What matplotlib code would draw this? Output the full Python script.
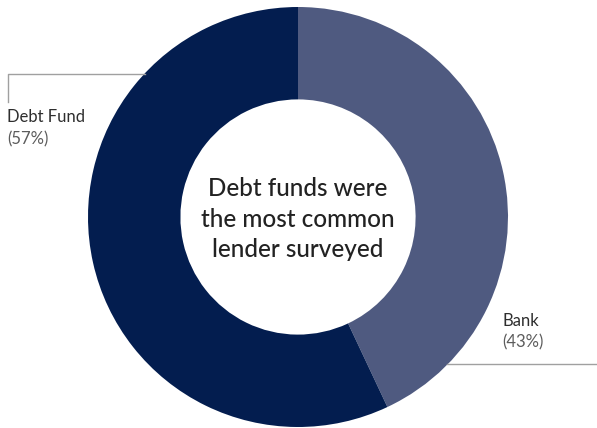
import matplotlib.pyplot as plt
from matplotlib.lines import Line2D

# lender split
labels = ["Bank", "Debt Fund"]
shares = [43, 57]
colors = ["#4f5a80", "#031d4f"]

plt.rcParams["font.family"] = ["Lato", "DejaVu Sans"]

W, H = 597, 428
fig = plt.figure(figsize=(W / 100, H / 100), dpi=100)
ax = fig.add_axes([0, 0, 1, 1])

cx, cy, r = 298, H - 217, 210
ax.pie(shares, colors=colors, startangle=90, counterclock=False,
       center=(cx, cy), radius=r, frame=True,
       wedgeprops=dict(width=r * 0.44, linewidth=0))
ax.set_xlim(0, W)
ax.set_ylim(0, H)
ax.set_aspect("equal")
ax.axis("off")

# leader lines
line_kw = dict(color="#a0a0a0", linewidth=1.0)
ax.add_line(Line2D([8, 8, 145], [H - 102, H - 74, H - 74], **line_kw))
ax.add_line(Line2D([447, 597], [H - 364, H - 364], **line_kw))

lab_kw = dict(fontsize=12, va="center", ha="left")
ax.text(7, H - 117, labels[1], color="#2e2e2e", **lab_kw)
ax.text(7, H - 139, f"({shares[1]}%)", color="#5c5c5c", **lab_kw)
ax.text(502, H - 321, labels[0], color="#2e2e2e", **lab_kw)
ax.text(502, H - 342, f"({shares[0]}%)", color="#5c5c5c", **lab_kw)

ax.text(cx, H - 219, "Debt funds were\nthe most common\nlender surveyed",
        fontsize=17.5, color="#222222", ha="center", va="center",
        linespacing=1.38, fontweight="medium")

fig.savefig("out.png", dpi=100)
